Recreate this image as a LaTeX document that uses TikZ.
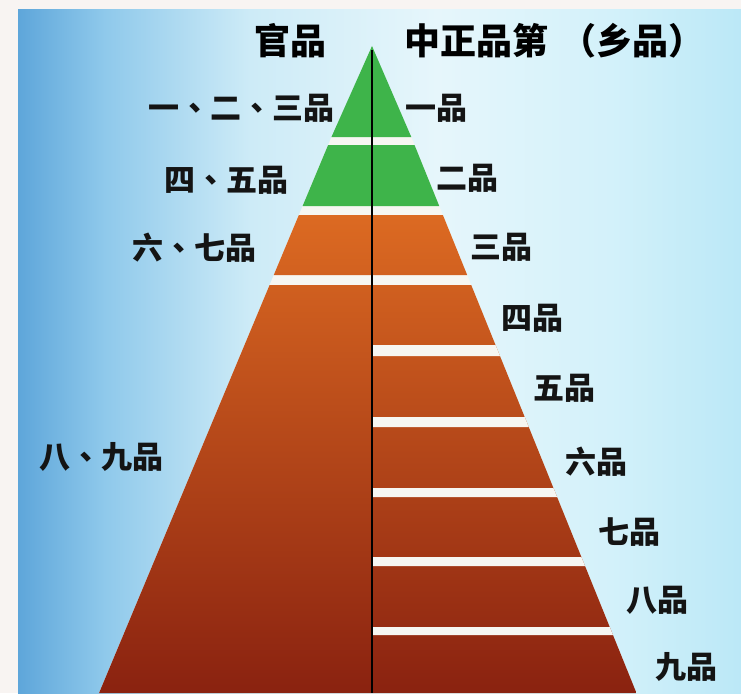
\documentclass[tikz,border=0pt]{standalone}
\usepackage{fontspec}
\newfontfamily\cjk{Noto Sans CJK SC}
\newfontfamily\cjktc{Noto Sans CJK TC}
\newcommand\dun{{\cjktc\bfseries 、}}
\definecolor{frame}{HTML}{F8F4F2}
\definecolor{bgA}{HTML}{5EA6DA}
\definecolor{bgB}{HTML}{8FC9EB}
\definecolor{bgC}{HTML}{CDEBF7}
\definecolor{bgD}{HTML}{E6F6FB}
\definecolor{bgE}{HTML}{D3F1FA}
\definecolor{bgF}{HTML}{BBE8F7}
\definecolor{grn}{HTML}{3EB44A}
\definecolor{orT}{HTML}{DC6A22}
\definecolor{orM}{HTML}{C6561C}
\definecolor{orB}{HTML}{8A2210}
\definecolor{gapw}{HTML}{F6F6F2}
\pgfdeclarehorizontalshading{bgsh}{100bp}{color(0bp)=(bgA); color(25bp)=(bgA); color(31bp)=(bgB); color(41bp)=(bgC); color(54bp)=(bgD); color(66bp)=(bgE); color(75bp)=(bgF); color(100bp)=(bgF)}
\tikzset{
  title/.style={font=\cjk\bfseries\fontsize{36}{40}\selectfont, inner sep=0pt, text=black},
  lbl/.style={font=\cjk\bfseries\fontsize{31}{34}\selectfont, inner sep=0pt, text=black!92}
}
\begin{document}
\begin{tikzpicture}[x=1pt,y=-1pt]
\useasboundingbox (0,0) rectangle (741,693);
\fill[frame] (0,0) rectangle (741,693);
\shade[shading=bgsh] (18,10) rectangle (741,693);
% edge coordinates
\foreach \y in {137,145,206,215,275,285,345,356,417,427,488,497,557,566,627,635,693}{
  \coordinate (L\y) at ({372-0.418*(\y-40)},\y);
  \coordinate (R\y) at ({372+0.405*(\y-40)},\y);
  \coordinate (M\y) at (372,\y);
}
\coordinate (apex) at (372,46);
\coordinate (top) at (372,50);
\coordinate (bot) at (372,693);
% white base behind gaps
\fill[gapw] (L137) -- (R137) -- (R693) -- (L693) -- cycle;
% green tiers
\fill[grn] (apex) -- (R137) -- (L137) -- cycle;
\fill[grn] (L145) -- (R145) -- (R206) -- (L206) -- cycle;
% orange tiers
\shade[top color=orT, middle color=orM, bottom color=orB]
  (L215) -- (R215) -- (R275) -- (L275) -- cycle
  (L285) -- (R285) -- (R693) -- (L693) -- cycle;
% white gaps on the right half
\foreach \a/\b in {345/356,417/427,488/497,557/566,627/635}{
  \fill[gapw] (M\a) -- (R\a) -- (R\b) -- (M\b) -- cycle;
}
% central line
\draw[line width=2.6pt, black] (top) -- (bot);
% titles
\node[title] (t1) at (290.5,41) {官品};
\node[title, anchor=west] (t2) at (404,41) {中正品第\hspace{12pt}（乡品）};
% left labels
\node[lbl, anchor=east] (g1) at (335,108) {一\dun 二\dun 三品};
\node[lbl, anchor=east] (g2) at (289,180) {四\dun 五品};
\node[lbl, anchor=east] (g3) at (257,248) {六\dun 七品};
\node[lbl, anchor=east] (g4) at (164,457) {八\dun 九品};
% right labels
\node[lbl, anchor=west] (p1) at (405,108) {一品};
\node[lbl, anchor=west] (p2) at (436,178) {二品};
\node[lbl, anchor=west] (p3) at (470,247) {三品};
\node[lbl, anchor=west] (p4) at (501,318) {四品};
\node[lbl, anchor=west] (p5) at (533,388) {五品};
\node[lbl, anchor=west] (p6) at (565,462) {六品};
\node[lbl, anchor=west] (p7) at (598,532) {七品};
\node[lbl, anchor=west] (p8) at (626,600) {八品};
\node[lbl, anchor=west] (p9) at (655,667) {九品};
\end{tikzpicture}
\end{document}
